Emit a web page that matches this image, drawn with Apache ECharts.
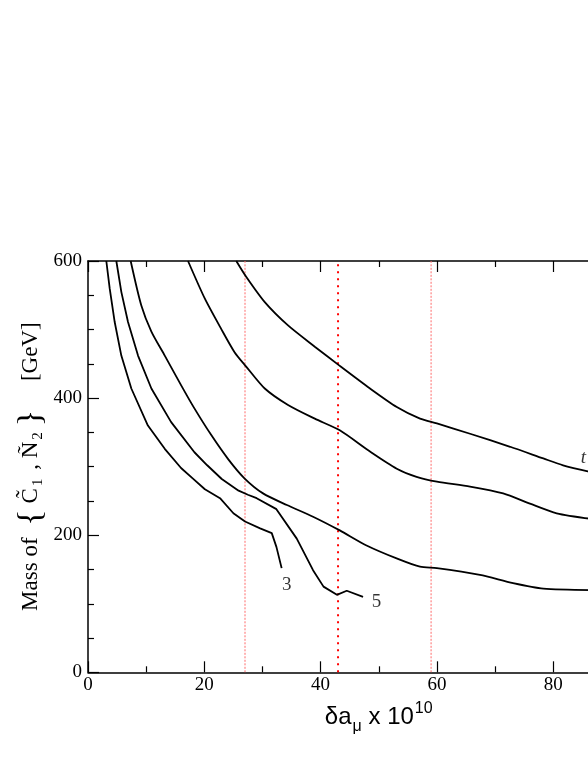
<!DOCTYPE html>
<html>
<head>
<meta charset="utf-8">
<script src="https://cdn.jsdelivr.net/npm/echarts@6/dist/echarts.min.js"></script>
<style>
  html, body { margin: 0; padding: 0; background: #fff; overflow: hidden; }
  #chart { width: 700px; height: 761px; }
</style>
</head>
<body>
<div id="chart"></div>
<script>
// contour curves (x = delta a_mu * 1e10, y = mass in GeV)
const c1X = [3.15, 3.73, 4.59, 5.73, 7.45, 10.3, 13.2, 16.0, 18.0, 20.1, 22.7, 25.0, 27.0, 29.6, 31.6, 32.4, 33.3];
const c1Y = [600, 560, 511, 462, 414, 360, 326, 298, 283, 267, 254, 232, 220, 210, 203, 183, 152];

const c2X = [4.87, 5.73, 6.88, 8.6, 10.9, 14.3, 18.3, 20.5, 23.0, 25.9, 27.5, 29.0, 32.4, 35.9, 38.7, 40.5, 42.8, 44.5, 47.3];
const c2Y = [600, 555, 511, 462, 414, 365, 321, 302, 282, 265, 259, 254, 238, 195, 149, 125, 113, 119, 110];

const c3X = [7.34, 9.17, 10.9, 13.2, 16.0, 18.3, 21.2, 24.1, 26.9, 30.1, 34.2, 38.7, 43.3, 47.9, 53.4, 57.1, 60.0, 67.4, 73.1, 78.3, 86.5];
const c3Y = [600, 535, 497, 462, 419, 385, 346, 311, 283, 261, 244, 227, 207, 185, 165, 154, 152, 142, 130, 122, 120];

const c4X = [17.2, 20.1, 22.9, 25.2, 27.2, 30.4, 34.4, 39.0, 43.3, 48.5, 53.1, 56.5, 60.0, 65.7, 71.4, 76.0, 80.6, 86.5];
const c4Y = [600, 545, 501, 467, 446, 414, 390, 370, 353, 322, 297, 285, 278, 271, 261, 246, 232, 224];

const c5X = [25.5, 27.2, 30.4, 34.4, 39.0, 43.3, 48.5, 53.1, 57.1, 60.0, 65.7, 72.6, 78.3, 81.7, 86.5];
const c5Y = [600, 577, 540, 506, 475, 447, 414, 387, 370, 363, 348, 329, 312, 302, 292];

// vertical reference lines
const bandLines = [27, 59];
const centerLine = [43];

// curve labels
const labelText = ['3', '5', 't'];
const labelX = [34.2, 49.6, 85.2];
const labelY = [127, 103, 312];

const xTicks = { min: 0, max: 100, interval: 20 };
const yTicks = { min: 0, max: 600, interval: 200 };

const chart = echarts.init(document.getElementById('chart'));

const zip = (xs, ys) => xs.map((x, i) => [x, ys[i]]);
const serif = 'Liberation Serif, Times New Roman, serif';
const sans = 'Liberation Sans, Arial, sans-serif';

const curve = (xs, ys, smooth) => ({
  type: 'line',
  data: zip(xs, ys),
  showSymbol: false,
  smooth: smooth ? 0.25 : false,
  lineStyle: { color: '#000', width: 1.8 },
  silent: true,
  z: 3
});

const vline = (x, color, width, dash) => ({
  type: 'line',
  data: [[x, yTicks.min], [x, yTicks.max]],
  showSymbol: false,
  lineStyle: { color: color, width: width, type: dash },
  silent: true,
  z: 2
});

const axisLine = { onZero: false, lineStyle: { color: '#000', width: 1.5 } };
const axisTick = { inside: true, length: 11, lineStyle: { color: '#000', width: 1.2 } };
const minor = (n) => ({ show: true, splitNumber: n, length: 6, lineStyle: { color: '#000', width: 1.2 } });

let option = {
  animation: false,
  backgroundColor: '#fff',
  grid: { left: 88, top: 261, right: 30.5, bottom: 88.7, containLabel: false, outerBoundsMode: 'none' },
  xAxis: [
    {
      type: 'value',
      position: 'bottom',
      min: xTicks.min, max: xTicks.max, interval: xTicks.interval,
      axisLine: axisLine,
      axisTick: axisTick,
      minorTick: minor(2),
      splitLine: { show: false },
      axisLabel: { color: '#000', fontFamily: serif, fontSize: 19, margin: 3 },
      name: '{t|δa}{s|μ}{t| x 10}{p|10}',
      nameLocation: 'middle',
      nameGap: 28,
      nameMoveOverlap: false,
      nameTextStyle: {
        color: '#000',
        fontFamily: sans,
        rich: {
          t: { fontSize: 24, fontFamily: sans, color: '#000', lineHeight: 34, verticalAlign: 'middle' },
          s: { fontSize: 16, fontFamily: sans, color: '#000', lineHeight: 34, verticalAlign: 'bottom', padding: [0, 0, 0, 1] },
          p: { fontSize: 16, fontFamily: sans, color: '#000', lineHeight: 34, verticalAlign: 'top', padding: [0, 0, 0, 1] }
        }
      }
    },
    {
      type: 'value',
      position: 'top',
      min: xTicks.min, max: xTicks.max, interval: xTicks.interval,
      axisLine: axisLine,
      axisTick: axisTick,
      minorTick: minor(2),
      axisLabel: { show: false },
      splitLine: { show: false }
    }
  ],
  yAxis: [
    {
      type: 'value',
      position: 'left',
      min: yTicks.min, max: yTicks.max, interval: yTicks.interval,
      axisLine: axisLine,
      axisTick: axisTick,
      minorTick: minor(4),
      splitLine: { show: false },
      axisLabel: { color: '#000', fontFamily: serif, fontSize: 19, margin: 6 },
      // the closing brace cannot sit inside a rich token, so it uses the base style
      name: '{t|Mass of }{b|{}{t|C\u0303}{s|1}{t| , N\u0303}{s|2}{g| }}{w|     }{t|[GeV]}',
      nameLocation: 'middle',
      nameRotate: 90,
      nameGap: 38,
      nameMoveOverlap: false,
      nameTextStyle: {
        color: '#000',
        fontFamily: serif,
        fontSize: 34,
        lineHeight: 38,
        rich: {
          t: { fontSize: 23, fontFamily: serif, color: '#000', lineHeight: 38, verticalAlign: 'middle' },
          b: { fontSize: 34, fontFamily: serif, color: '#000', lineHeight: 38, verticalAlign: 'middle', padding: [0, 6, 0, 6] },
          g: { fontSize: 12, fontFamily: serif, color: '#000', lineHeight: 38, verticalAlign: 'middle' },
          w: { fontSize: 23, fontFamily: serif, color: '#000', lineHeight: 38, verticalAlign: 'middle' },
          s: { fontSize: 15, fontFamily: serif, color: '#000', lineHeight: 38, verticalAlign: 'bottom', padding: [0, 3, 4, 2] }
        }
      }
    },
    {
      type: 'value',
      position: 'right',
      min: yTicks.min, max: yTicks.max, interval: yTicks.interval,
      axisLine: axisLine,
      axisTick: axisTick,
      minorTick: minor(4),
      splitLine: { show: false },
      axisLabel: { show: false }
    }
  ],
  series: [
    ...bandLines.map(x => vline(x, '#ff6a6a', 1, [2, 1.5])),
    ...centerLine.map(x => vline(x, '#ff0000', 2, [2, 5])),
    curve(c1X, c1Y, false),
    curve(c2X, c2Y, false),
    curve(c3X, c3Y, true),
    curve(c4X, c4Y, true),
    curve(c5X, c5Y, true),
    {
      type: 'scatter',
      data: labelX.map((x, i) => ({
        value: [x, labelY[i]],
        label: {
          show: true,
          position: 'inside',
          formatter: labelText[i],
          fontFamily: serif,
          fontSize: 19,
          fontStyle: labelText[i] === 't' ? 'italic' : 'normal',
          color: '#000'
        }
      })),
      symbolSize: 1,
      itemStyle: { color: 'rgba(0,0,0,0)' },
      silent: true,
      z: 4
    }
  ]
};

chart.setOption(option);
</script>
</body>
</html>
